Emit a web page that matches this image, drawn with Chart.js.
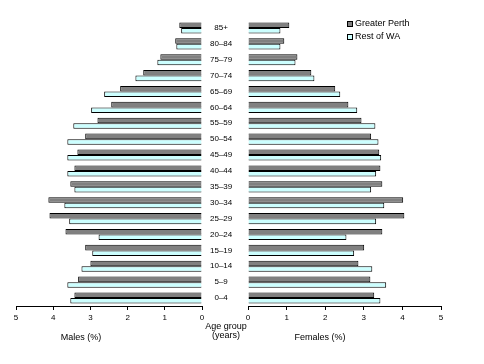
<!DOCTYPE html>
<html>
<head>
<meta charset="utf-8">
<script src="https://cdn.jsdelivr.net/npm/chart.js@4/dist/chart.umd.min.js"></script>
<style>
  html, body { margin: 0; padding: 0; background: #fff; }
  #wrap { position: relative; width: 484px; height: 364px; overflow: hidden; }
  #males   { position: absolute; left: 0;     top: 0; }
  #females { position: absolute; left: 236px; top: 0; }
</style>
</head>
<body>
<div id="wrap">
  <canvas id="males" width="260" height="364"></canvas>
  <canvas id="females" width="248" height="364"></canvas>
</div>
<script>
// age groups, top to bottom as in the picture
const AGES = ['85+', '80–84', '75–79', '70–74', '65–69', '60–64', '55–59', '50–54', '45–49',
              '40–44', '35–39', '30–34', '25–29', '20–24', '15–19', '10–14', '5–9', '0–4'];

const SERIES = ['Greater Perth', 'Rest of WA'];

const MALES_PERTH = [0.61, 0.72, 1.12, 1.58, 2.20, 2.44, 2.81, 3.14, 3.35,
                     3.43, 3.54, 4.13, 4.10, 3.67, 3.14, 3.00, 3.33, 3.43];
const MALES_REST  = [0.56, 0.69, 1.20, 1.79, 2.63, 2.98, 3.46, 3.62, 3.62,
                     3.62, 3.43, 3.70, 3.57, 2.78, 2.95, 3.24, 3.62, 3.54];

const FEMALES_PERTH = [1.07, 0.94, 1.28, 1.64, 2.26, 2.60, 2.94, 3.19, 3.40,
                       3.43, 3.48, 4.02, 4.05, 3.48, 3.01, 2.86, 3.17, 3.27];
const FEMALES_REST  = [0.84, 0.84, 1.23, 1.72, 2.39, 2.83, 3.30, 3.38, 3.45,
                       3.32, 3.19, 3.53, 3.32, 2.55, 2.75, 3.22, 3.58, 3.43];

const X_MAX = 5;

const PERTH_COLOR = '#808080';
const REST_COLOR  = '#ccffff';
const FONT = 'Liberation Sans, Arial, sans-serif';

Chart.defaults.font.family = FONT;
Chart.defaults.font.size = 8;
Chart.defaults.color = '#000';
Chart.defaults.animation = false;

const makeDatasets = (perth, rest) => [
    { label: SERIES[0], data: perth, backgroundColor: PERTH_COLOR, borderColor: '#000', borderWidth: 1 },
    { label: SERIES[1], data: rest,  backgroundColor: REST_COLOR,  borderColor: '#000', borderWidth: 1 }
];

const xAxis = reverse => ({
    type: 'linear',
    min: 0,
    max: X_MAX,
    reverse: reverse,
    ticks: { stepSize: 1, padding: 3, font: { size: 8 }, color: '#000' },
    grid: { drawOnChartArea: false, drawTicks: true, tickLength: 4, color: '#000' },
    border: { display: true, color: '#000', width: 1 },
    afterFit: scale => { scale.height = 20; }
});

// free text labels (axis titles)
const textPlugin = items => ({
    id: 'texts',
    afterDraw: chart => {
        const ctx = chart.ctx;
        ctx.save();
        ctx.fillStyle = '#000';
        ctx.textAlign = 'center';
        ctx.textBaseline = 'middle';
        items.forEach(t => {
            ctx.font = `${t.size}px ${FONT}`;
            ctx.fillText(t.text, t.x, t.y);
        });
        ctx.restore();
    }
});

const legendPlugin = {
    id: 'boxLegend',
    afterDraw: chart => {
        const ctx = chart.ctx;
        const x = chart.chartArea.left + 99;
        let y = chart.chartArea.top + 4;
        ctx.save();
        ctx.font = `9px ${FONT}`;
        ctx.textBaseline = 'middle';
        ctx.textAlign = 'left';
        chart.data.datasets.forEach(ds => {
            ctx.fillStyle = ds.backgroundColor;
            ctx.fillRect(x, y - 3, 6, 6);
            ctx.strokeStyle = '#000';
            ctx.lineWidth = 1;
            ctx.strokeRect(x + 0.5, y - 2.5, 5, 5);
            ctx.fillStyle = '#000';
            ctx.fillText(ds.label, x + 8, y);
            y += 13;
        });
        ctx.restore();
    }
};

new Chart(document.getElementById('males'), {
    type: 'bar',
    data: { labels: AGES, datasets: makeDatasets(MALES_PERTH, MALES_REST) },
    options: {
        indexAxis: 'y',
        responsive: false,
        categoryPercentage: 0.7,
        barPercentage: 1.0,
        layout: { padding: { left: 16, right: 12, top: 20, bottom: 38 } },
        plugins: { legend: { display: false }, tooltip: { enabled: false } },
        scales: {
            x: xAxis(true),
            y: {
                position: 'right',
                ticks: { crossAlign: 'center', padding: 0, font: { size: 8 }, color: '#000' },
                grid: { display: false },
                border: { display: false },
                afterFit: scale => { scale.width = 46; }
            }
        }
    },
    plugins: [textPlugin([
        { text: 'Males (%)', x: 81, y: 338, size: 9 },
        { text: 'Age group', x: 226, y: 327, size: 9 },
        { text: '(years)', x: 226, y: 336, size: 9 }
    ])]
});

new Chart(document.getElementById('females'), {
    type: 'bar',
    data: { labels: AGES, datasets: makeDatasets(FEMALES_PERTH, FEMALES_REST) },
    options: {
        indexAxis: 'y',
        responsive: false,
        categoryPercentage: 0.7,
        barPercentage: 1.0,
        layout: { padding: { left: 12, right: 43, top: 20, bottom: 38 } },
        plugins: { legend: { display: false }, tooltip: { enabled: false } },
        scales: {
            x: xAxis(false),
            y: { display: false }
        }
    },
    plugins: [legendPlugin, textPlugin([
        { text: 'Females (%)', x: 84, y: 338, size: 9 }
    ])]
});
</script>
</body>
</html>
